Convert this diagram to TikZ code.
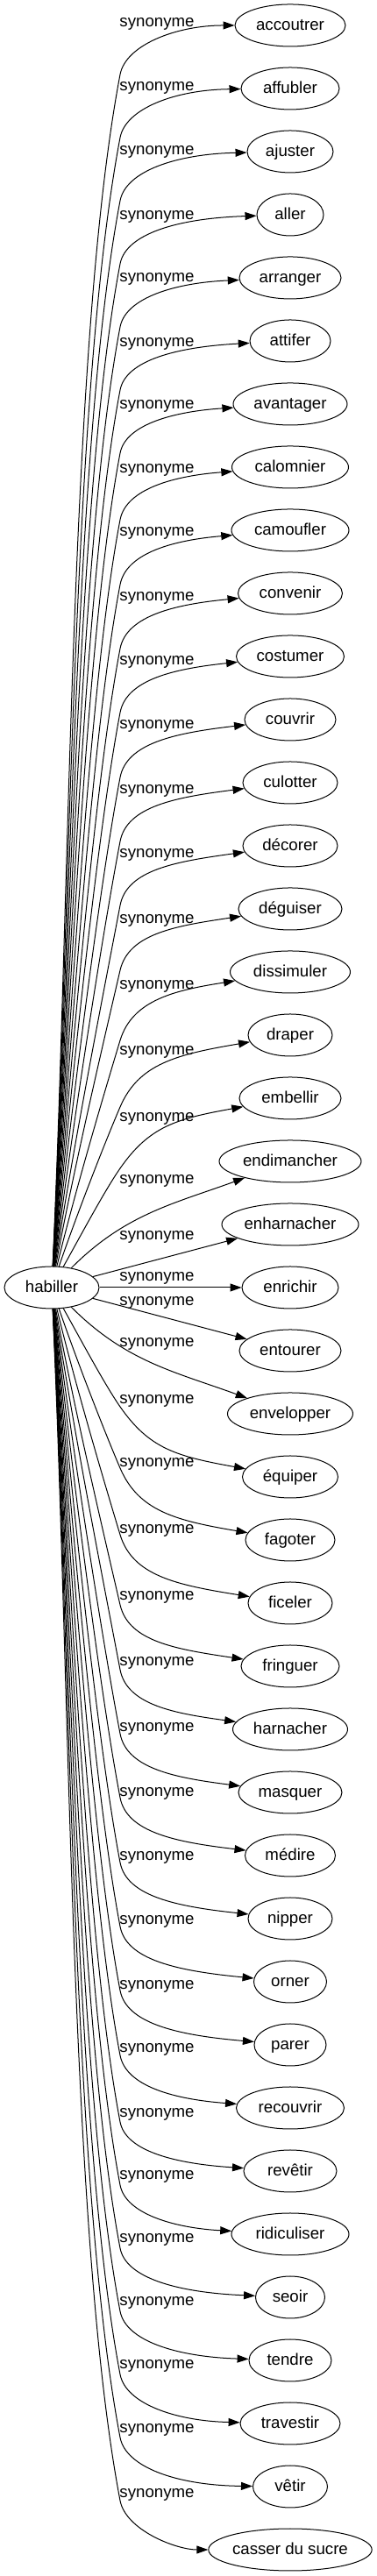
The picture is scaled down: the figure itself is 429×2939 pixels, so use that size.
\documentclass[tikz,border=0pt]{standalone}
\usepackage{fontspec}
\setmainfont{Liberation Sans}
\usetikzlibrary{arrows.meta,shapes.geometric}
\tikzset{word/.style={draw,ellipse,line width=1pt,minimum height=48pt,inner sep=0pt,text height=14pt,text depth=3pt,font=\fontsize{18.67}{22}\selectfont},lbl/.style={inner sep=0pt,font=\fontsize{18.67}{22}\selectfont},syn/.style={-{Triangle[length=13pt,width=9pt]},line width=1pt}}
\newcommand{\synedge}[4]{%
\pgfmathsetmacro\sbY{#2-(#4)*#3}%
\pgfmathsetmacro\sbH{(#4)*(\sbY-1470)-24}%
\pgfmathsetmacro\sbC{78/\sbH}%
\pgfmathsetmacro\sbS{max(0.19,\sbC)}%
\pgfmathsetmacro\sbA{0.33*\sbH+24}%
\pgfmathsetmacro\sbB{0.22*\sbH}%
\pgfmathsetmacro\sbM{0.6*#3}%
\pgfmathsetmacro\sbO{max(0,27.6-1.38*(#4)*(#2-1470)/72)}%
\pgfmathsetmacro\sbAx{0.8*\sbC*\sbA}%
\pgfmathsetmacro\sbAy{(#4)*\sbA}%
\pgfmathsetmacro\sbBx{-\sbS*\sbB}%
\pgfmathsetmacro\sbBy{-(#4)*\sbB}%
\pgfmathsetmacro\sbMx{\sbS*\sbM}%
\pgfmathsetmacro\sbMy{(#4)*\sbM}%
\pgfmathsetmacro\sbOy{-(#4)*\sbO}%
\draw[syn] (habiller) .. controls +(\sbAx,\sbAy) and +(\sbBx,\sbBy) .. (137,\sbY) .. controls +(\sbMx,\sbMy) and +(-130,\sbOy) .. (#1);}

\begin{document}
\begin{tikzpicture}[x=1pt,y=1pt]
\useasboundingbox (0,0) rectangle (429,2939);
\node[word,minimum width=108pt] (habiller) at (59,1470) {habiller};
\node[word,minimum width=126pt] (accoutrer) at (331,2910) {accoutrer};
\node[word,minimum width=112pt] (affubler) at (331,2838) {affubler};
\node[word,minimum width=98pt] (ajuster) at (331,2766) {ajuster};
\node[word,minimum width=76pt] (aller) at (331,2694) {aller};
\node[word,minimum width=116pt] (arranger) at (331,2622) {arranger};
\node[word,minimum width=92pt] (attifer) at (331,2550) {attifer};
\node[word,minimum width=130pt] (avantager) at (331,2478) {avantager};
\node[word,minimum width=133pt] (calomnier) at (331,2406) {calomnier};
\node[word,minimum width=134pt] (camoufler) at (331,2334) {camoufler};
\node[word,minimum width=119pt] (convenir) at (331,2262) {convenir};
\node[word,minimum width=123pt] (costumer) at (331,2190) {costumer};
\node[word,minimum width=104pt] (couvrir) at (331,2118) {couvrir};
\node[word,minimum width=108pt] (culotter) at (331,2046) {culotter};
\node[word,minimum width=108pt] (decorer) at (331,1974) {décorer};
\node[word,minimum width=118pt] (deguiser) at (331,1902) {déguiser};
\node[word,minimum width=137pt] (dissimuler) at (331,1830) {dissimuler};
\node[word,minimum width=96pt] (draper) at (331,1758) {draper};
\node[word,minimum width=116pt] (embellir) at (331,1686) {embellir};
\node[word,minimum width=162pt] (endimancher) at (331,1614) {endimancher};
\node[word,minimum width=156pt] (enharnacher) at (331,1542) {enharnacher};
\node[word,minimum width=110pt] (enrichir) at (331,1470) {enrichir};
\node[word,minimum width=116pt] (entourer) at (331,1398) {entourer};
\node[word,minimum width=143pt] (envelopper) at (331,1326) {envelopper};
\node[word,minimum width=109pt] (equiper) at (331,1254) {équiper};
\node[word,minimum width=102pt] (fagoter) at (331,1182) {fagoter};
\node[word,minimum width=96pt] (ficeler) at (331,1110) {ficeler};
\node[word,minimum width=112pt] (fringuer) at (331,1038) {fringuer};
\node[word,minimum width=131pt] (harnacher) at (331,966) {harnacher};
\node[word,minimum width=118pt] (masquer) at (331,894) {masquer};
\node[word,minimum width=103pt] (medire) at (331,822) {médire};
\node[word,minimum width=96pt] (nipper) at (331,750) {nipper};
\node[word,minimum width=83pt] (orner) at (331,678) {orner};
\node[word,minimum width=82pt] (parer) at (331,606) {parer};
\node[word,minimum width=123pt] (recouvrir) at (331,534) {recouvrir};
\node[word,minimum width=106pt] (revetir) at (331,462) {revêtir};
\node[word,minimum width=134pt] (ridiculiser) at (331,390) {ridiculiser};
\node[word,minimum width=79pt] (seoir) at (331,318) {seoir};
\node[word,minimum width=94pt] (tendre) at (331,246) {tendre};
\node[word,minimum width=114pt] (travestir) at (331,174) {travestir};
\node[word,minimum width=85pt] (vetir) at (331,102) {vêtir};
\node[word,minimum width=185pt] (casser) at (331,30) {casser du sucre};
\node[lbl] (accoutrer-lbl) at (179,2912) {synonyme};
\node[lbl] (affubler-lbl) at (179,2839) {synonyme};
\node[lbl] (ajuster-lbl) at (179,2766) {synonyme};
\node[lbl] (aller-lbl) at (179,2692) {synonyme};
\node[lbl] (arranger-lbl) at (179,2621) {synonyme};
\node[lbl] (attifer-lbl) at (179,2547) {synonyme};
\node[lbl] (avantager-lbl) at (179,2476) {synonyme};
\node[lbl] (calomnier-lbl) at (179,2403) {synonyme};
\node[lbl] (camoufler-lbl) at (179,2331) {synonyme};
\node[lbl] (convenir-lbl) at (179,2257) {synonyme};
\node[lbl] (costumer-lbl) at (179,2184) {synonyme};
\node[lbl] (couvrir-lbl) at (179,2111) {synonyme};
\node[lbl] (culotter-lbl) at (179,2037) {synonyme};
\node[lbl] (decorer-lbl) at (179,1964) {synonyme};
\node[lbl] (deguiser-lbl) at (179,1889) {synonyme};
\node[lbl] (dissimuler-lbl) at (179,1814) {synonyme};
\node[lbl] (draper-lbl) at (179,1739) {synonyme};
\node[lbl] (embellir-lbl) at (179,1663) {synonyme};
\node[lbl] (endimancher-lbl) at (179,1592) {synonyme};
\node[lbl] (enharnacher-lbl) at (179,1528) {synonyme};
\node[lbl] (enrichir-lbl) at (179,1481) {synonyme};
\node[lbl] (entourer-lbl) at (179,1453) {synonyme};
\node[lbl] (envelopper-lbl) at (179,1406) {synonyme};
\node[lbl] (equiper-lbl) at (179,1341) {synonyme};
\node[lbl] (fagoter-lbl) at (179,1269) {synonyme};
\node[lbl] (ficeler-lbl) at (179,1193) {synonyme};
\node[lbl] (fringuer-lbl) at (179,1117) {synonyme};
\node[lbl] (harnacher-lbl) at (179,1042) {synonyme};
\node[lbl] (masquer-lbl) at (179,967) {synonyme};
\node[lbl] (medire-lbl) at (179,893) {synonyme};
\node[lbl] (nipper-lbl) at (179,820) {synonyme};
\node[lbl] (orner-lbl) at (179,747) {synonyme};
\node[lbl] (parer-lbl) at (179,673) {synonyme};
\node[lbl] (recouvrir-lbl) at (179,601) {synonyme};
\node[lbl] (revetir-lbl) at (179,527) {synonyme};
\node[lbl] (ridiculiser-lbl) at (179,456) {synonyme};
\node[lbl] (seoir-lbl) at (179,384) {synonyme};
\node[lbl] (tendre-lbl) at (179,312) {synonyme};
\node[lbl] (travestir-lbl) at (179,240) {synonyme};
\node[lbl] (vetir-lbl) at (179,167) {synonyme};
\node[lbl] (casser-lbl) at (179,93) {synonyme};
\synedge{accoutrer}{2910}{56}{1}
\synedge{affubler}{2838}{56}{1}
\synedge{ajuster}{2766}{56}{1}
\synedge{aller}{2694}{56}{1}
\synedge{arranger}{2622}{56}{1}
\synedge{attifer}{2550}{56}{1}
\synedge{avantager}{2478}{56}{1}
\synedge{calomnier}{2406}{60}{1}
\synedge{camoufler}{2334}{62}{1}
\synedge{convenir}{2262}{63}{1}
\synedge{costumer}{2190}{64}{1}
\synedge{couvrir}{2118}{66}{1}
\synedge{culotter}{2046}{67}{1}
\synedge{decorer}{1974}{68}{1}
\synedge{deguiser}{1902}{70}{1}
\synedge{dissimuler}{1830}{78}{1}
\synedge{draper}{1758}{82}{1}
\synedge{embellir}{1686}{80}{1}
\draw[syn] (habiller) to[out=45,in=200] (endimancher);
\draw[syn] (habiller) -- (enharnacher);
\draw[syn] (habiller) -- (enrichir);
\draw[syn] (habiller) -- (entourer);
\draw[syn] (habiller) to[out=-45,in=160] (envelopper);
\synedge{equiper}{1254}{80}{-1}
\synedge{fagoter}{1182}{82}{-1}
\synedge{ficeler}{1110}{78}{-1}
\synedge{fringuer}{1038}{70}{-1}
\synedge{harnacher}{966}{68}{-1}
\synedge{masquer}{894}{67}{-1}
\synedge{medire}{822}{66}{-1}
\synedge{nipper}{750}{64}{-1}
\synedge{orner}{678}{63}{-1}
\synedge{parer}{606}{62}{-1}
\synedge{recouvrir}{534}{60}{-1}
\synedge{revetir}{462}{56}{-1}
\synedge{ridiculiser}{390}{56}{-1}
\synedge{seoir}{318}{56}{-1}
\synedge{tendre}{246}{56}{-1}
\synedge{travestir}{174}{56}{-1}
\synedge{vetir}{102}{56}{-1}
\synedge{casser}{30}{56}{-1}
\end{tikzpicture}
\end{document}
